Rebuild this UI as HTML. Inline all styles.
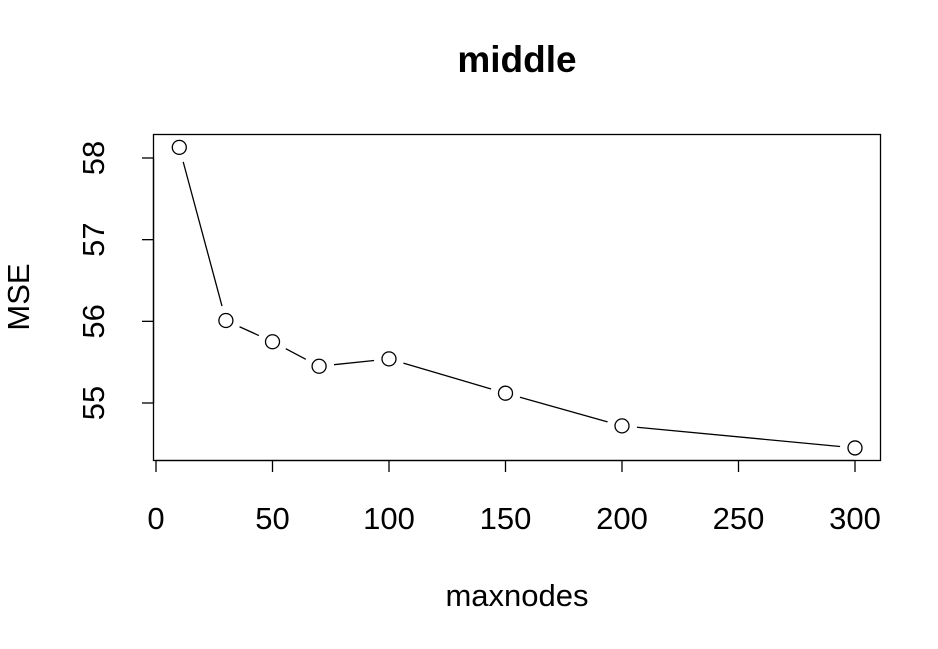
<!DOCTYPE html>
<html><head><meta charset="utf-8"><style>
body{margin:0;background:#fff}
svg text{font-family:"Liberation Sans",Arial,sans-serif;fill:#000}
</style></head><body>
<svg id="chart" width="938" height="644" xmlns="http://www.w3.org/2000/svg">
<text x="517" y="72" text-anchor="middle" font-size="37" font-weight="bold">middle</text>
<rect x="153.5" y="134.5" width="727" height="326" fill="none" stroke="#000" stroke-width="1.3"/>
<g id="xaxis"></g>
<g id="yaxis"></g>
<g id="series"></g>
<text x="517" y="606" text-anchor="middle" font-size="31">maxnodes</text>
<text transform="translate(29,297) rotate(-90)" text-anchor="middle" font-size="31">MSE</text>
</svg>
<script>
const maxnodes=[10,30,50,70,100,150,200,300];
const mse=[58.13,56.01,55.75,55.45,55.54,55.12,54.72,54.45];
const xTicks=[0,50,100,150,200,250,300];
const yTicks=[55,56,57,58];
const NS="http://www.w3.org/2000/svg";
const xs=v=>156+v*(699/300);
const ys=v=>403-(v-55)*(245/3);
function mk(t,a,p){const e=document.createElementNS(NS,t);for(const k in a)e.setAttribute(k,a[k]);p.appendChild(e);return e;}
const xa=document.getElementById('xaxis'),ya=document.getElementById('yaxis'),se=document.getElementById('series');
mk('line',{x1:xs(0),x2:xs(300),y1:460.5,y2:460.5,stroke:'#000','stroke-width':1.3},xa);
xTicks.forEach(t=>{
 const l=mk('line',{x1:xs(t),x2:xs(t),y1:460.5,y2:472,stroke:'#000','stroke-width':1.3},xa);
 
 
 const tx=mk('text',{x:xs(t),y:529,'text-anchor':'middle','font-size':31},xa);tx.textContent=t;
 
 
});
mk('line',{x1:153.5,x2:153.5,y1:ys(55),y2:ys(58),stroke:'#000','stroke-width':1.3},ya);
yTicks.forEach(t=>{
 const l=mk('line',{x1:142,x2:153.5,y1:ys(t),y2:ys(t),stroke:'#000','stroke-width':1.3},ya);
 
 
 const tx=mk('text',{transform:`translate(104,${ys(t)}) rotate(-90)`,'text-anchor':'middle','font-size':31},ya);tx.textContent=t;
 
 
});
const gap=15;
for(let i=0;i<maxnodes.length-1;i++){
 const x1=xs(maxnodes[i]),y1=ys(mse[i]),x2=xs(maxnodes[i+1]),y2=ys(mse[i+1]);
 const d=Math.hypot(x2-x1,y2-y1);if(d<=2*gap)continue;
 const ux=(x2-x1)/d,uy=(y2-y1)/d;
 const l=mk('line',{x1:x1+ux*gap,y1:y1+uy*gap,x2:x2-ux*gap,y2:y2-uy*gap,stroke:'#000','stroke-width':1.3},se);
 
 
}
maxnodes.forEach((m,i)=>{
 const c=mk('circle',{cx:xs(m),cy:ys(mse[i]),r:7,fill:'#fff',stroke:'#000','stroke-width':1.3},se);
 
 
});
</script>
</body></html>
